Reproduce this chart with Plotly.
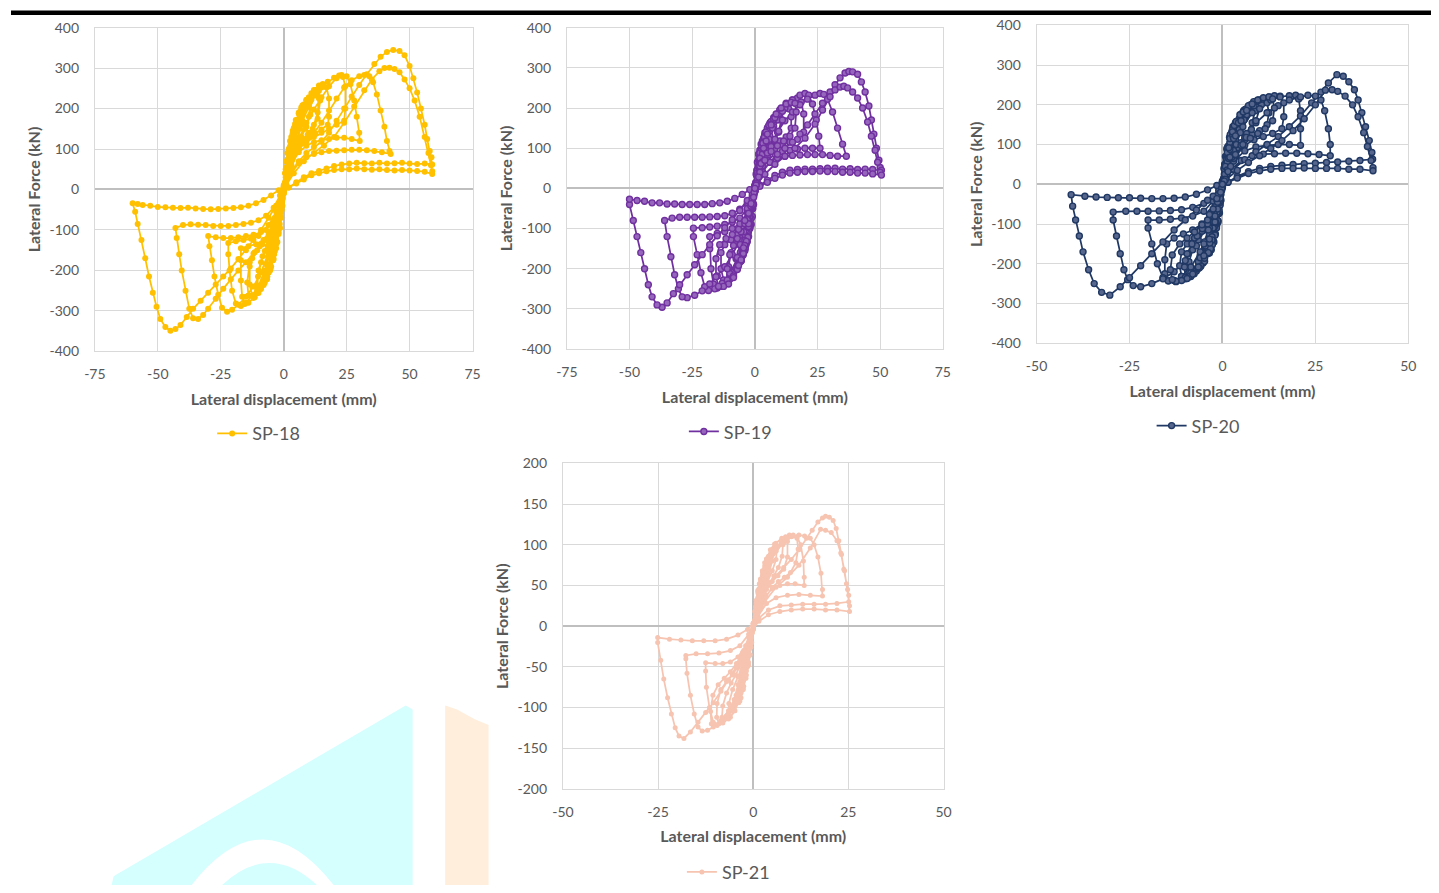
import plotly.graph_objects as go

# ---------------- data (displacement mm, force kN) ----------------
SP18 = [
    (0,0),(0.5,40),(1,70),(1.5,90),(2,100),(1.6,75),(1,45),(0.4,15),(0,-5),(-0.5,-40),(-1,-70),(-1.5,-95),(-2,-110),(-1.6,-85),(-1,-50),(-0.4,-15),
    (0,5),(0.8,50),(1.6,90),(2.5,120),(3.5,138),(3,110),(2,70),(1,35),(0,-5),(-0.8,-50),(-1.6,-95),(-2.5,-130),(-3.5,-152),(-3,-120),(-2,-80),(-1,-40),
    (0,5),(1,50),(2,95),(3,130),(4,152),(5,166),(4.5,140),(3.4,105),(2.2,70),(1,30),(0,-10),(-1,-55),(-2,-105),(-3,-145),(-4,-172),(-5,-190),(-4.5,-160),(-3.4,-120),(-2.2,-80),(-1,-35),
    (0,10),(1.2,55),(2.4,105),(3.6,145),(4.8,172),(6,188),(6.5,192),(5.8,160),(4.6,125),(3.2,90),(1.8,55),(0.6,20),(-0.6,-30),(-1.8,-85),(-3,-135),(-4.2,-175),(-5.4,-200),(-6.5,-215),(-5.8,-185),(-4.6,-145),(-3.2,-105),(-1.8,-65),(-0.6,-25),
    (0.4,15),(1.6,65),(3,120),(4.5,162),(6,190),(7,203),(8,210),(7.6,185),(6.4,150),(5,120),(3.4,88),(1.8,50),(0.4,10),(-1,-45),(-2.4,-105),(-3.8,-155),(-5.2,-195),(-6.6,-222),(-8,-236),(-7.6,-205),(-6.2,-165),(-4.6,-128),(-3,-92),(-1.4,-50),
    (0,0),(1.5,55),(3,110),(4.5,155),(6,188),(7.5,208),(9,220),(10,226),(11,222),(10.6,185),(9,155),(7,130),(5,105),(3,75),(1.4,40),(0,0),(-1.5,-60),(-3,-120),(-4.5,-170),(-6,-205),(-7.5,-230),(-9,-246),(-10.5,-255),(-11,-240),(-10,-200),(-8.4,-165),(-6.4,-140),(-4.4,-110),(-2.6,-75),(-1,-35),
    (0.5,10),(2,60),(3.5,115),(5,160),(7,198),(9,222),(11,238),(12.5,246),(13.5,242),(14,225),(13.5,190),(12,160),(10,140),(8,125),(6,108),(4,85),(2,50),(0.5,10),(-1,-45),(-2.5,-105),(-4,-160),(-6,-205),(-8,-235),(-10,-256),(-11.5,-266),(-12.5,-262),(-13.5,-235),(-13.5,-190),(-12.5,-170),(-10.5,-150),(-8.5,-135),(-6.5,-120),(-4.5,-100),(-2.5,-70),(-1,-35),
    (0.5,5),(2,50),(4,115),(6,165),(8,200),(10,228),(12,246),(14,257),(15.5,261),(17,252),(18,225),(18,180),(17.5,160),(15,148),(12.5,138),(10,128),(7.5,115),(5,95),(3,70),(1,25),(-0.5,-20),(-2,-75),(-4,-140),(-6,-190),(-8,-225),(-10,-250),(-12,-268),(-14,-280),(-15.5,-283),(-16.5,-265),(-17,-225),(-17,-175),(-17,-145),(-14,-140),(-11,-135),(-8,-125),(-5.5,-108),(-3,-78),(-1,-35),
    (0.5,5),(2.5,55),(5,120),(7.5,170),(10,205),(12.5,232),(15,252),(17.5,266),(20,276),(22,282),(23.5,278),(24.5,255),(24.5,200),(24,170),(21,160),(18,150),(15,140),(12,130),(9,118),(6,100),(3,70),(1,25),(-0.5,-25),(-2.5,-85),(-5,-150),(-7.5,-200),(-10,-238),(-12.5,-262),(-15,-280),(-17,-288),(-19,-282),(-20.5,-250),(-21.5,-200),(-22,-160),(-22,-132),(-19,-128),(-16,-125),(-13,-122),(-10,-115),(-7,-100),(-4,-75),(-1.5,-35),
    (0.5,10),(3,70),(6,125),(9,165),(12,198),(15,228),(18,255),(21,275),(23,283),(25,280),(26.5,260),(28,220),(29,180),(30,140),(30.2,120),(27,125),(24,128),(21,128),(18,125),(15,122),(12,117),(9,108),(6,92),(3,62),(1,22),
    (-1,-35),(-3.5,-100),(-6,-155),(-9,-205),(-12,-240),(-15,-265),(-18,-285),(-20.5,-297),(-22.5,-302),(-24.5,-292),(-26,-260),(-27.5,-215),(-28.5,-175),(-29.5,-140),(-30,-115),(-27,-118),(-24,-120),(-21,-120),(-18,-118),(-15,-115),(-12,-112),(-9,-105),(-6,-88),(-3,-55),(-1,-20),
    (0.5,15),(3,60),(6,100),(9,120),(12,140),(15,165),(18,195),(21,225),(24,252),(27,270),(30,280),(32,283),(34,280),(35.5,265),(37,235),(38.5,195),(40,155),(41,120),(42,95),(42.5,88),(39,92),(36,95),(33,97),(30,98),(27,98),(24,97),(21,96),(18,95),(15,92),(12,88),(9,80),(6,65),(3,40),(1,15),
    (-1,-25),(-3.5,-70),(-6,-110),(-9,-135),(-12,-158),(-15,-180),(-18,-200),(-21,-222),(-24,-245),(-27,-270),(-30,-295),(-32,-310),(-34,-320),(-36,-318),(-37.5,-295),(-39,-250),(-40.5,-200),(-41.5,-160),(-42.5,-120),(-43,-95),(-40,-88),(-37,-86),(-34,-87),(-31,-88),(-28,-90),(-25,-90),(-22,-90),(-19,-88),(-16,-85),(-13,-82),(-10,-76),(-7,-65),(-4,-45),(-1.5,-15),
    (0.5,15),(3,45),(6,70),(9,90),(12,105),(15,118),(18,140),(21,170),(24,200),(27,230),(30,258),(33,285),(36,310),(38.5,328),(41,340),(43.5,345),(46,342),(48,332),(50,305),(51.5,275),(53,240),(54.5,200),(56,160),(57,125),(58,95),(58.7,80),(59,62),(56,64),(53,63),(50,64),(47,66),(44,65),(41,64),(38,66),(35,64),(32,65),(29,66),(26,64),(23,62),(20,58),(17,52),(14,46),(11,40),(8,30),(5,18),(2,5),
    (0,-10),(-3,-40),(-6,-70),(-9,-100),(-12,-125),(-15,-150),(-18,-172),(-21,-195),(-24,-215),(-27,-235),(-30,-255),(-33,-275),(-36,-295),(-38.5,-315),(-41,-335),(-43,-345),(-45,-349),(-47,-340),(-49,-320),(-50.5,-290),(-52,-255),(-53.5,-215),(-55,-170),(-56.5,-125),(-58,-85),(-59,-55),(-60,-34),(-58,-36),(-56,-38),(-53,-40),(-50,-43),(-47,-44),(-44,-45),(-41,-46),(-38,-45),(-35,-47),(-32,-48),(-29,-49),(-26,-48),(-23,-47),(-20,-46),(-17,-44),(-14,-40),(-11,-34),(-8,-26),(-5,-15),(-2,-2),
    (1,10),(4,40),(8,70),(12,90),(16,108),(20,130),(24,165),(28,205),(32,245),(35,272),(38,292),(40,300),(42,301),(44,298),(46,290),(48,272),(50,250),(52,220),(54,180),(56,130),(57.5,90),(58.5,60),(59,45),(59,38),(56,44),(53,46),(50,47),(47,48),(44,47),(41,48),(38,50),(35,49),(32,50),(29,52),(26,50),(23,50),(20,48),(17,45),(14,40),(11,35),(8,25),(5,15),(2,5),(0,-5),
    (0.8,30),(1.8,75),(2.8,112),(3.8,140),(4.5,150),(4,120),(3,88),(2,55),(1,25),(0,-8),(-0.8,-40),(-1.8,-90),(-2.8,-130),(-3.8,-160),(-4.5,-175),(-4,-140),(-3,-100),(-2,-62),(-1,-28),
    (0,5),(1,35),(2,75),(3.2,118),(4.4,150),(5.6,172),(6.5,182),(7.5,190),(7,160),(5.8,128),(4.4,98),(3,68),(1.6,36),(0.3,5),(-1,-40),(-2.2,-88),(-3.4,-135),(-4.6,-170),(-5.8,-195),(-7,-212),(-7.5,-218),(-7,-185),(-5.8,-150),(-4.4,-115),(-3,-82),(-1.6,-45),(-0.3,-10),
    (0.6,12),(2,58),(3.5,108),(5,148),(6.5,178),(8,198),(9.5,212),(10.5,216),(10,180),(8.5,150),(7,128),(5.5,108),(4,86),(2.5,58),(1,22),(-0.5,-20),(-2,-72),(-3.5,-128),(-5,-172),(-6.5,-205),(-8,-228),(-9.5,-242),(-10.5,-248),(-10.2,-215),(-9,-180),(-7.5,-152),(-6,-130),(-4.5,-108),(-3,-82),(-1.5,-48),
    (0.5,8),(2.5,68),(4.5,128),(6.5,172),(8.5,205),(10.5,226),(12.5,240),(14,244),(14.5,220),(13.5,175),(11.5,150),(9.5,135),(7.5,120),(5.5,102),(3.5,75),(1.5,35),(-0.5,-22),(-2.5,-90),(-4.5,-152),(-6.5,-200),(-8.5,-232),(-10.5,-252),(-12.5,-262),(-14,-262),(-14.5,-230),(-13.5,-180),(-11.5,-155),(-9.5,-140),(-7.5,-125),(-5.5,-108),(-3.5,-82),(-1.5,-42),(0,0),
]

SP19 = [
    (0,0),(0.5,35),(1,65),(1.5,85),(2,95),(1.5,70),(1,45),(0.4,15),(0,-5),(-0.5,-40),(-1,-70),(-1.5,-90),(-2,-100),(-1.5,-75),(-1,-45),(-0.4,-15),
    (0,5),(0.8,45),(1.6,85),(2.5,110),(3.5,125),(3,100),(2,65),(1,30),(0,-5),(-0.8,-50),(-1.6,-90),(-2.5,-120),(-3.5,-140),(-3,-112),(-2,-72),(-1,-35),
    (0,5),(1,45),(2,88),(3,118),(4,138),(5,150),(4.4,125),(3.3,95),(2.1,62),(1,28),(0,-8),(-1,-50),(-2,-98),(-3,-132),(-4,-155),(-5,-168),(-4.4,-140),(-3.3,-105),(-2.1,-70),(-1,-32),
    (0,8),(1.3,55),(2.6,100),(3.9,132),(5.2,152),(6.5,165),(5.8,140),(4.5,108),(3,75),(1.6,42),(0.4,12),(-0.8,-35),(-2,-90),(-3.3,-135),(-4.6,-165),(-5.8,-182),(-6.5,-188),(-5.8,-160),(-4.5,-125),(-3,-88),(-1.6,-50),(-0.4,-15),
    (0.5,15),(2,70),(3.5,118),(5,148),(6.5,166),(8,178),(7.5,155),(6,125),(4.5,98),(3,70),(1.5,38),(0.2,5),(-1.2,-50),(-2.6,-110),(-4,-152),(-5.4,-180),(-6.8,-196),(-8,-203),(-7.5,-175),(-6,-140),(-4.4,-108),(-2.8,-75),(-1.2,-38),
    (0,0),(1.5,55),(3,105),(4.5,140),(6,162),(7.5,176),(9,185),(10,188),(10.5,170),(9.5,140),(8,118),(6,100),(4,78),(2,45),(0.5,10),(-1,-45),(-2.5,-105),(-4,-150),(-5.5,-180),(-7,-200),(-8.5,-212),(-10,-218),(-10.5,-195),(-9.5,-160),(-8,-138),(-6,-118),(-4,-95),(-2,-60),(-0.5,-20),
    (0.5,10),(2,55),(4,110),(6,150),(8,178),(10,195),(12,202),(13.5,198),(14.5,178),(14.5,150),(12.5,128),(10,118),(7.5,105),(5,88),(2.5,55),(0.5,12),(-1,-40),(-3,-110),(-5,-160),(-7,-195),(-9,-220),(-11,-232),(-12.5,-228),(-13.5,-200),(-13.5,-160),(-12,-140),(-9.5,-128),(-7,-115),(-4.5,-95),(-2,-55),(-0.5,-15),
    (0.5,8),(2.5,60),(5,120),(7.5,165),(10,195),(12.5,212),(15,220),(17,225),(18.5,215),(19.5,185),(19.5,140),(17,122),(14,115),(11,108),(8,98),(5,80),(2.5,50),(0.5,10),(-1.2,-40),(-3.5,-110),(-6,-170),(-8.5,-208),(-11,-232),(-13,-244),(-15,-248),(-16.5,-238),(-17.5,-200),(-18,-150),(-18,-120),(-15,-112),(-12,-108),(-9,-100),(-6,-88),(-3,-60),(-1,-22),
    (0.5,8),(3,65),(6,130),(9,170),(12,200),(15,220),(18,232),(20,236),(21.5,232),(23,210),(24.5,170),(25.5,130),(26,100),(23,100),(20,100),(17,98),(14,95),(11,92),(8,85),(5,70),(2.5,45),(0.5,8),(-1.5,-45),(-4,-115),(-7,-175),(-10,-212),(-13,-236),(-16,-250),(-18.5,-254),(-20,-245),(-21.5,-210),(-23,-165),(-24.5,-120),(-24.5,-99),(-21,-98),(-18,-96),(-15,-94),(-12,-90),(-9,-84),(-6,-74),(-3,-50),(-1,-18),
    (0.5,10),(3,55),(6,105),(9,140),(12,168),(15,190),(18,208),(21,222),(24,232),(26,236),(27.5,234),(29,222),(31,190),(33,150),(35,110),(36.5,80),(33,80),(30,82),(27,84),(24,84),(21,84),(18,83),(15,82),(12,80),(9,76),(6,65),(3,42),(1,12),
    (-1,-30),(-3.5,-85),(-6,-130),(-9,-165),(-12,-195),(-15,-218),(-18,-238),(-21,-255),(-24,-266),(-27,-272),(-29,-270),(-30.5,-250),(-32,-215),(-33.5,-170),(-35,-120),(-36,-80),(-33,-74),(-30,-72),(-27,-72),(-24,-72),(-21,-72),(-18,-71),(-15,-70),(-12,-68),(-9,-62),(-6,-52),(-3,-35),(-1,-12),
    (0.5,10),(3,40),(6,65),(9,85),(12,100),(15,115),(18,135),(21,158),(24,185),(27,212),(30,240),(32,258),(34,275),(36,287),(37.5,291),(39,290),(41,284),(42.5,265),(44,240),(45.5,205),(46.5,170),(47.5,135),(48.5,100),(49.5,70),(50,52),(50.5,45),(47,47),(44,48),(41,47),(38,49),(35,48),(32,50),(29,50),(26,49),(23,48),(20,48),(17,47),(14,45),(11,40),(8,32),(5,20),(2,8),
    (0,-5),(-3,-30),(-6,-55),(-9,-78),(-12,-98),(-15,-118),(-18,-140),(-21,-165),(-24,-190),(-27,-215),(-30,-240),(-32.5,-262),(-35,-285),(-37,-296),(-39,-290),(-41,-270),(-42.5,-240),(-44,-200),(-45.5,-160),(-47,-120),(-48.5,-80),(-50,-40),(-50,-27),(-47,-30),(-44,-32),(-41,-36),(-38,-36),(-35,-39),(-32,-39),(-29,-40),(-26,-40),(-23,-40),(-20,-40),(-17,-38),(-14,-36),(-11,-32),(-8,-25),(-5,-15),(-2,-3),
    (1,12),(4,35),(8,60),(12,80),(16,100),(20,125),(24,160),(27,195),(30,228),(32,245),(34,252),(35.5,254),(37,250),(39,240),(41,225),(43,200),(45,165),(46.5,130),(48,95),(49,65),(50,40),(50.5,33),(47,36),(44,38),(41,38),(38,40),(35,40),(32,42),(29,42),(26,43),(23,42),(20,42),(17,40),(14,38),(11,33),(8,25),(5,15),(2,5),(0,-5),
    (0.8,32),(1.8,75),(2.8,105),(3.8,128),(4.5,138),(4,115),(3,85),(2,55),(1,25),(0,-8),(-0.8,-42),(-1.8,-88),(-2.8,-122),(-3.8,-148),(-4.5,-158),(-4,-130),(-3,-96),(-2,-62),(-1,-28),
    (0,5),(1,38),(2,75),(3.2,112),(4.4,140),(5.6,157),(6.5,166),(7.5,172),(7,150),(5.8,122),(4.4,94),(3,66),(1.6,36),(0.3,5),(-1,-42),(-2.2,-90),(-3.4,-132),(-4.6,-162),(-5.8,-182),(-7,-196),(-7.5,-200),(-7,-172),(-5.8,-140),(-4.4,-108),(-3,-78),(-1.6,-44),(-0.3,-10),
    (0.6,12),(2,55),(3.5,100),(5,135),(6.5,160),(8,176),(9.5,186),(11,192),(11,170),(9.5,142),(8,122),(6.5,104),(5,88),(3.5,66),(2,40),(0.5,8),(-1,-40),(-2.5,-95),(-4,-142),(-5.5,-178),(-7,-202),(-8.5,-218),(-10,-226),(-11,-228),(-11,-200),(-10,-165),(-8.5,-142),(-7,-125),(-5.5,-108),(-4,-88),(-2.5,-62),(-1,-28),
    (0.5,8),(2.5,62),(4.5,118),(6.5,158),(8.5,185),(10.5,200),(12.5,210),(14.5,214),(16,212),(16.5,190),(16,150),(14,130),(11.5,118),(9,106),(6.5,92),(4,70),(1.5,28),(-0.5,-22),(-2.5,-88),(-4.5,-148),(-6.5,-192),(-8.5,-222),(-10.5,-238),(-12.5,-244),(-14.5,-244),(-15.5,-220),(-15.5,-175),(-14,-140),(-11.5,-125),(-9,-115),(-6.5,-102),(-4,-80),(-1.5,-38),(0,0),
]

SP20 = [
    (0,0),(0.4,40),(0.8,70),(1.2,88),(1.5,96),(1.1,70),(0.7,42),(0.3,15),(0,-5),(-0.4,-40),(-0.8,-72),(-1.2,-92),(-1.5,-102),(-1.1,-75),(-0.7,-45),(-0.3,-15),
    (0,5),(0.6,50),(1.2,90),(1.9,118),(2.5,132),(2.1,105),(1.4,68),(0.7,32),(0,-5),(-0.6,-52),(-1.2,-95),(-1.9,-125),(-2.5,-142),(-2.1,-112),(-1.4,-75),(-0.7,-35),
    (0,5),(0.7,50),(1.4,92),(2.1,125),(2.8,145),(3.5,155),(3,130),(2.2,95),(1.4,62),(0.6,25),(-0.2,-15),(-0.9,-65),(-1.6,-110),(-2.3,-145),(-3,-165),(-3.5,-173),(-3,-145),(-2.2,-108),(-1.4,-70),(-0.6,-30),
    (0,8),(1,60),(2,105),(3,138),(4,158),(5,170),(4.5,145),(3.5,112),(2.4,78),(1.2,42),(0.2,8),(-0.8,-45),(-1.8,-100),(-2.8,-142),(-3.8,-170),(-5,-188),(-4.5,-160),(-3.5,-125),(-2.4,-88),(-1.2,-48),(-0.2,-12),
    (0.5,25),(1.6,78),(2.8,125),(4,158),(5.2,178),(6.5,190),(6,165),(4.8,132),(3.5,100),(2.2,65),(0.9,25),(-0.4,-25),(-1.6,-88),(-2.8,-140),(-4,-175),(-5.2,-198),(-6.5,-210),(-6,-180),(-4.8,-145),(-3.5,-110),(-2.2,-72),(-0.9,-32),
    (0.2,10),(1.6,70),(3,125),(4.5,165),(6,188),(7.5,200),(8.5,204),(8.8,185),(8,155),(6.5,128),(5,105),(3.5,80),(2,48),(0.6,12),(-0.8,-40),(-2.2,-105),(-3.6,-155),(-5,-188),(-6.5,-210),(-8,-222),(-9,-222),(-9,-195),(-8,-165),(-6.5,-140),(-5,-115),(-3.5,-88),(-2,-55),(-0.6,-18),
    (0.5,15),(2,75),(3.5,128),(5,165),(7,195),(9,208),(11,212),(12,205),(12.5,180),(12,150),(10,135),(8,125),(6,112),(4,92),(2,55),(0.4,10),(-1,-45),(-2.5,-110),(-4,-160),(-5.5,-195),(-7,-218),(-8.5,-232),(-10,-238),(-11,-232),(-11.5,-205),(-11,-170),(-9.5,-150),(-7.5,-135),(-5.5,-118),(-3.5,-90),(-1.8,-52),(-0.4,-12),
    (0.5,10),(2.5,80),(4.5,138),(6.5,175),(8.5,198),(10.5,212),(12.5,220),(14,223),(15.5,222),(16.5,205),(16.5,170),(16,140),(13.5,128),(11,120),(8.5,112),(6,98),(3.5,70),(1.2,25),(-0.6,-25),(-2.5,-95),(-4.5,-155),(-6.5,-195),(-8.5,-222),(-10.5,-238),(-12.5,-245),(-14.5,-243),(-15.5,-225),(-15.5,-190),(-15,-150),(-13,-135),(-10.5,-125),(-8,-115),(-5.5,-100),(-3,-70),(-1,-25),
    (0.5,8),(3,85),(5.5,145),(8,180),(10.5,200),(13,212),(15.5,220),(18,223),(19.7,224),(20.5,215),(21,185),(21,140),(21,98),(18,100),(15,100),(12,98),(9,94),(6,84),(3,58),(0.8,15),(-1,-35),(-3.5,-110),(-6,-170),(-8.5,-208),(-11,-232),(-13,-242),(-14.6,-243),(-16,-235),(-17.5,-200),(-19,-150),(-20,-110),(-20,-90),(-17,-90),(-14,-88),(-11,-85),(-8,-80),(-5,-68),(-2.5,-42),(-0.5,-8),
    (0.5,10),(3,65),(6,118),(9,155),(12,180),(15,198),(18,212),(21,220),(23,224),(25,222),(26.5,212),(27.5,185),(28.5,140),(29,100),(29,72),(26,75),(23,77),(20,78),(17,78),(14,77),(11,76),(8,72),(5,60),(2.5,38),(0.5,8),
    (-1.5,-40),(-4,-100),(-7,-155),(-10,-192),(-13,-220),(-16,-238),(-19,-250),(-22,-258),(-24,-255),(-25.5,-240),(-26.5,-215),(-27.5,-175),(-28.5,-130),(-29.4,-90),(-29.4,-70),(-26,-68),(-23,-68),(-20,-68),(-17,-67),(-14,-66),(-11,-64),(-8,-58),(-5,-48),(-2.5,-30),(-0.5,-6),
    (0.5,10),(3,38),(6,62),(9,82),(12,100),(15,120),(18,145),(21,172),(24,205),(26.5,232),(28.5,255),(30.8,276),(32.5,272),(34,258),(35.5,238),(36.5,212),(37.5,180),(38.5,145),(39.5,110),(40.2,80),(40.4,63),(37,60),(34,58),(31,56),(28,55),(25,53),(22,52),(19,50),(16,48),(13,45),(10,40),(7,32),(4,20),(1.5,5),
    (-1,-15),(-4,-40),(-7,-65),(-10,-90),(-13,-115),(-16,-145),(-19,-175),(-22,-205),(-25,-235),(-27.5,-258),(-30.3,-279),(-32.5,-272),(-34.5,-250),(-36,-215),(-37.5,-170),(-38.5,-130),(-39.5,-90),(-40.3,-55),(-40.7,-26),(-37,-30),(-34,-32),(-31,-33),(-28,-34),(-25,-34),(-22,-35),(-19,-36),(-16,-36),(-13,-35),(-10,-32),(-7,-25),(-4,-14),(-1.5,-3),
    (1,12),(4,35),(7,55),(10,72),(13,90),(16,110),(19,135),(22,165),(25,200),(27.7,237),(29.5,238),(31,234),(33,222),(35,200),(36.5,170),(38,130),(39,95),(40,60),(40.5,42),(40.5,34),(37,38),(34,38),(31,40),(28,40),(25,40),(22,41),(19,40),(16,40),(13,38),(10,34),(7,27),(4,16),(1.5,5),(0,-3),
    (0.6,38),(1.3,80),(2,115),(2.7,138),(3.2,148),(2.8,122),(2,88),(1.3,56),(0.6,25),(0,-8),(-0.6,-45),(-1.3,-92),(-2,-128),(-2.7,-152),(-3.2,-162),(-2.8,-132),(-2,-96),(-1.3,-62),(-0.6,-28),
    (0,5),(0.8,45),(1.7,92),(2.7,132),(3.7,158),(4.7,175),(5.7,185),(6.2,188),(5.8,162),(4.8,130),(3.7,100),(2.5,68),(1.3,36),(0.2,5),(-0.8,-42),(-1.8,-95),(-2.8,-140),(-3.8,-172),(-4.8,-194),(-5.8,-206),(-6.5,-212),(-6,-185),(-5,-150),(-3.8,-115),(-2.5,-80),(-1.3,-45),(-0.2,-10),
    (0.5,12),(1.7,65),(3,115),(4.3,155),(5.6,182),(7,198),(8.4,208),(9.8,212),(10,190),(9,160),(7.8,138),(6.4,118),(5,98),(3.6,74),(2.2,45),(0.8,12),(-0.6,-35),(-2,-95),(-3.4,-148),(-4.8,-186),(-6.2,-210),(-7.6,-225),(-9,-233),(-10,-235),(-10.2,-208),(-9.5,-175),(-8.2,-150),(-6.8,-130),(-5.4,-112),(-4,-90),(-2.5,-62),(-1,-25),
    (0.5,8),(2,68),(3.5,122),(5,160),(6.5,186),(8,202),(9.5,212),(11,218),(12.5,220),(13.5,215),(14,192),(13.5,160),(11.5,140),(9.5,128),(7.5,116),(5.5,100),(3.5,75),(1.5,32),(-0.5,-20),(-2,-80),(-3.5,-138),(-5,-180),(-6.5,-208),(-8,-226),(-9.5,-237),(-11,-242),(-12.5,-244),(-13.5,-240),(-14,-215),(-13.5,-178),(-11.5,-150),(-9.5,-135),(-7.5,-120),(-5.5,-102),(-3.5,-76),(-1.5,-36),(0,0),
]

SP21 = [
    (0,0),(0.4,18),(0.8,32),(1.2,42),(1.5,46),(1.1,32),(0.7,18),(0.3,6),(0,-4),(-0.4,-20),(-0.8,-35),(-1.2,-45),(-1.5,-50),(-1.1,-35),(-0.7,-20),(-0.3,-6),
    (0,3),(0.6,24),(1.2,44),(1.9,58),(2.5,66),(2.1,52),(1.4,34),(0.7,15),(0,-4),(-0.6,-26),(-1.2,-48),(-1.9,-64),(-2.5,-74),(-2.1,-58),(-1.4,-38),(-0.7,-16),
    (0,3),(0.8,28),(1.6,52),(2.4,68),(3,78),(3.5,83),(3,70),(2.2,50),(1.4,32),(0.6,12),(-0.2,-8),(-1,-36),(-1.8,-60),(-2.6,-78),(-3.2,-88),(-3.5,-92),(-3,-76),(-2.2,-56),(-1.4,-36),(-0.6,-15),
    (0,4),(1,32),(2,56),(3,74),(4,86),(5,94),(4.5,80),(3.5,62),(2.4,42),(1.2,20),(0.2,2),(-0.8,-25),(-1.8,-55),(-2.8,-78),(-3.8,-94),(-5,-103),(-4.5,-88),(-3.5,-68),(-2.4,-48),(-1.2,-25),(-0.2,-5),
    (0.5,12),(1.5,42),(2.5,66),(3.5,82),(4.5,94),(5.6,101),(6.2,96),(6,82),(5,68),(3.8,55),(2.5,38),(1.2,18),(0,-2),(-1.2,-35),(-2.4,-65),(-3.6,-88),(-4.8,-104),(-6,-112),(-6.5,-108),(-6.4,-95),(-5.4,-78),(-4,-62),(-2.6,-45),(-1.2,-24),
    (0,0),(1.2,35),(2.4,62),(3.6,80),(4.8,93),(6,102),(7.5,108),(8.5,110),(9,104),(9,85),(8,70),(6.5,62),(5,55),(3.5,45),(2,28),(0.6,8),(-0.8,-25),(-2.2,-62),(-3.6,-88),(-5,-104),(-6.5,-114),(-8,-119),(-9,-120),(-9.6,-112),(-9.5,-95),(-8.5,-78),(-7,-68),(-5.5,-60),(-4,-50),(-2.5,-35),(-1,-15),
    (0.3,5),(1.5,38),(3,66),(4.5,84),(6,96),(7.5,104),(9,109),(9.5,112),(10.5,112),(11.5,110),(12.5,100),(13.2,80),(13.4,60),(13.4,50),(11,52),(9,52),(7,50),(5,46),(3,36),(1.2,15),(-0.5,-15),(-2,-52),(-3.5,-80),(-5,-98),(-6.5,-110),(-8,-118),(-9.5,-122),(-10.5,-118),(-11.5,-100),(-12.3,-75),(-12.5,-55),(-12.5,-45),(-10,-46),(-8,-46),(-6,-44),(-4,-38),(-2,-24),(-0.5,-6),
    (0.3,5),(2,42),(4,74),(6,92),(8,103),(10,110),(12,112),(13.5,111),(15,108),(16,100),(17,85),(17.8,65),(18.2,45),(18.2,37),(15,38),(12,39),(9,38),(6,35),(3.5,28),(1.2,12),(-0.5,-12),(-2.5,-55),(-4.5,-85),(-6.5,-104),(-8.5,-116),(-10.5,-124),(-12,-128),(-13.4,-129),(-14.5,-124),(-15.5,-108),(-16.5,-85),(-17.4,-58),(-17.7,-40),(-17.7,-36),(-15,-34),(-12,-34),(-9,-33),(-6,-30),(-3.5,-24),(-1.2,-10),
    (0.3,4),(2,30),(4,50),(6,62),(8,72),(10,82),(12,94),(14,108),(15.5,118),(17,128),(18.2,133),(19,135),(20,134),(21,130),(21.8,120),(22.5,105),(23.2,88),(23.8,70),(24.5,52),(25.1,38),(25.1,30),(22,28),(19,27),(16,27),(13,27),(10,26),(7,25),(4,20),(1.5,10),
    (-0.5,-6),(-2.5,-30),(-4.5,-50),(-6.5,-66),(-8.5,-80),(-10.5,-94),(-12.5,-106),(-14.5,-118),(-16.5,-130),(-18.2,-138),(-19.5,-135),(-20.5,-125),(-21.5,-108),(-22.5,-88),(-23.5,-65),(-24.3,-42),(-25.1,-20),(-25.1,-14),(-22,-16),(-19,-17),(-16,-18),(-13,-18),(-10,-18),(-7,-16),(-4,-11),(-1.5,-4),
    (0.5,6),(3,30),(6,48),(9,60),(12,75),(15,96),(17.7,119),(19,118),(20.5,115),(22,105),(23,90),(24,68),(24.8,45),(25.3,25),(25.3,18),(22,20),(19,20),(16,21),(13,21),(10,20),(7,18),(4,14),(1.5,6),(0,-2),
    (0.6,20),(1.3,40),(2,55),(2.7,66),(3.2,72),(2.8,60),(2,44),(1.3,28),(0.6,12),(0,-4),(-0.6,-22),(-1.3,-44),(-2,-62),(-2.7,-76),(-3.2,-82),(-2.8,-68),(-2,-50),(-1.3,-32),(-0.6,-14),
    (0,3),(0.8,24),(1.7,46),(2.7,65),(3.7,78),(4.7,87),(5.5,92),(5,80),(4,64),(3,48),(2,32),(1,15),(0,-3),(-0.8,-24),(-1.8,-50),(-2.8,-72),(-3.8,-88),(-4.8,-98),(-5.5,-104),(-5,-90),(-4,-72),(-3,-54),(-2,-36),(-1,-18),
    (0.4,8),(1.6,35),(2.8,58),(4,76),(5.2,89),(6.4,98),(7.4,104),(7.8,100),(7.6,86),(6.6,72),(5.4,62),(4.2,52),(3,40),(1.8,25),(0.6,8),(-0.6,-18),(-1.8,-48),(-3,-72),(-4.2,-90),(-5.4,-102),(-6.6,-110),(-7.6,-114),(-8.2,-112),(-8,-98),(-7,-82),(-5.8,-70),(-4.6,-60),(-3.4,-48),(-2.2,-34),(-1,-16),
    (0.3,5),(1.5,36),(3,62),(4.5,80),(6,93),(7.5,102),(9,108),(10.5,111),(11.5,108),(11.8,95),(11.2,78),(9.8,66),(8.2,60),(6.6,55),(5,48),(3.4,36),(1.8,20),(0.4,3),(-1,-28),(-2.5,-60),(-4,-84),(-5.5,-100),(-7,-110),(-8.5,-117),(-10,-121),(-11,-120),(-11.2,-105),(-10.6,-85),(-9.2,-72),(-7.6,-64),(-6,-56),(-4.4,-46),(-2.8,-32),(-1.2,-14),(0,0),
]

NAMES = ["SP-18", "SP-19", "SP-20", "SP-21"]
X_TICKS_75 = [-75, -50, -25, 0, 25, 50, 75]
X_TICKS_50 = [-50, -25, 0, 25, 50]
Y_TICKS_400 = [-400, -300, -200, -100, 0, 100, 200, 300, 400]
Y_TICKS_200 = [-200, -150, -100, -50, 0, 50, 100, 150, 200]

# ---------------- styling ----------------
LINE_COLORS = ["#FFC000", "#7030A0", "#203864", "#F6C4B0"]
FILL_COLORS = ["#FFC000", "#9566BC", "#56668C", "#F6C4B0"]
GRID = "#D9D9D9"
ZERO = "#BFBFBF"
TXT = "#595959"
FONT = "Lato, 'Open Sans', sans-serif"

W, H = 1439, 893
def px_x(p): return p / W
def px_y(p): return 1 - p / H

panels = [
    dict(data=SP18, xd=(85, 467.7), yd=(19, 349), xt=X_TICKS_75, yt=Y_TICKS_400, leg=(251, 433)),
    dict(data=SP19, xd=(563.3, 944.3), yd=(19, 346.7), xt=X_TICKS_75, yt=Y_TICKS_400, leg=(729, 431)),
    dict(data=SP20, xd=(1039.3, 1416), yd=(16.7, 340.7), xt=X_TICKS_50, yt=Y_TICKS_400, leg=(1203, 425)),
    dict(data=SP21, xd=(559.3, 945), yd=(463.3, 795), xt=X_TICKS_50, yt=Y_TICKS_200, leg=(727, 880)),
]

fig = go.Figure()
layout = dict(
    width=W, height=H, margin=dict(l=0, r=0, t=0, b=0),
    paper_bgcolor="white", plot_bgcolor="white",
    font=dict(family=FONT, color=TXT),
    showlegend=True,
)

for i, p in enumerate(panels):
    n = "" if i == 0 else str(i + 1)
    xs = [pt[0] for pt in p["data"]]
    ys = [pt[1] for pt in p["data"]]
    legname = "legend" if i == 0 else f"legend{i+1}"
    msize = 6 if i < 3 else 5
    fig.add_trace(go.Scatter(
        x=xs, y=ys, mode="lines+markers", name=NAMES[i],
        xaxis="x" + n, yaxis="y" + n, legend=legname,
        line=dict(color=LINE_COLORS[i], width=1.75),
        marker=dict(symbol="circle", size=msize, color=FILL_COLORS[i],
                    line=dict(color=LINE_COLORS[i], width=1.4 if i in (1, 2) else 0)),
    ))
    xt, yt = p["xt"], p["yt"]
    layout["xaxis" + n] = dict(
        domain=[px_x(p["xd"][0]), px_x(p["xd"][1])], anchor="y" + n,
        range=[xt[0], xt[-1]], tickmode="array", tickvals=xt, ticktext=[str(v) for v in xt],
        showgrid=True, gridcolor=GRID, gridwidth=1,
        zeroline=True, zerolinecolor=ZERO, zerolinewidth=1.5,
        showline=True, mirror=True, linecolor=GRID, linewidth=1,
        ticks="", ticklabelstandoff=10,
        tickfont=dict(size=14, color=TXT, family=FONT),
        title=dict(text="<b>Lateral displacement (mm)</b>", standoff=12,
                   font=dict(size=16, color=TXT, family=FONT)),
        fixedrange=True,
    )
    layout["yaxis" + n] = dict(
        domain=[px_y(p["yd"][1]), px_y(p["yd"][0])], anchor="x" + n,
        range=[yt[0], yt[-1]], tickmode="array", tickvals=yt, ticktext=[str(v) for v in yt],
        showgrid=True, gridcolor=GRID, gridwidth=1,
        zeroline=True, zerolinecolor=ZERO, zerolinewidth=1.5,
        showline=True, mirror=True, linecolor=GRID, linewidth=1,
        ticks="", ticklabelstandoff=12,
        tickfont=dict(size=14, color=TXT, family=FONT),
        title=dict(text="<b>Lateral Force (kN)</b>", standoff=4,
                   font=dict(size=16, color=TXT, family=FONT)),
        fixedrange=True,
    )
    layout[legname] = dict(
        x=px_x(p["leg"][0]), y=px_y(p["leg"][1]), xanchor="center", yanchor="middle",
        xref="paper", yref="paper", orientation="h",
        bgcolor="rgba(0,0,0,0)", font=dict(size=18, color=TXT, family=FONT),
        itemwidth=30,
    )

# decorative elements (top rule and faint watermark)
def P(x, y):
    return f"{px_x(x):.5f},{px_y(y):.5f}"

shapes = [
    dict(type="line", xref="paper", yref="paper", x0=0, x1=1, y0=px_y(3.8), y1=px_y(3.8),
         line=dict(color="black", width=4.5)),
    dict(type="path", xref="paper", yref="paper", layer="below",
         path=f"M {P(400,710)} L {P(407,714)} L {P(407,893)} L {P(102,893)} L {P(104,884)} Z",
         fillcolor="#D5FEFE", line=dict(width=0)),
    dict(type="path", xref="paper", yref="paper", layer="below",
         path=f"M {P(183,893)} Q {P(255,800)} {P(327,893)} Z",
         fillcolor="white", line=dict(width=0)),
    dict(type="path", xref="paper", yref="paper", layer="below",
         path=f"M {P(214,893)} Q {P(262,848)} {P(310,893)} Z",
         fillcolor="#D5FEFE", line=dict(width=0)),
    dict(type="path", xref="paper", yref="paper", layer="below",
         path=f"M {P(440,710)} L {P(452,714)} L {P(470,724)} L {P(484,730)} L {P(484,893)} L {P(440,893)} Z",
         fillcolor="#FFEEDC", line=dict(width=0)),
]
layout["shapes"] = shapes

fig.update_layout(**layout)
fig.write_html(
    "out.html",
    config={"displayModeBar": False, "responsive": False},
    post_script=(
        "document.documentElement.style.margin='0';"
        "document.documentElement.style.overflow='hidden';"
        "document.body.style.margin='0';document.body.style.padding='0';"
        "document.body.style.overflow='hidden';"
        "var gd=document.querySelector('.plotly-graph-div');"
        "if(gd){gd.style.position='fixed';gd.style.left='0px';gd.style.top='0px';}"
    ),
)
